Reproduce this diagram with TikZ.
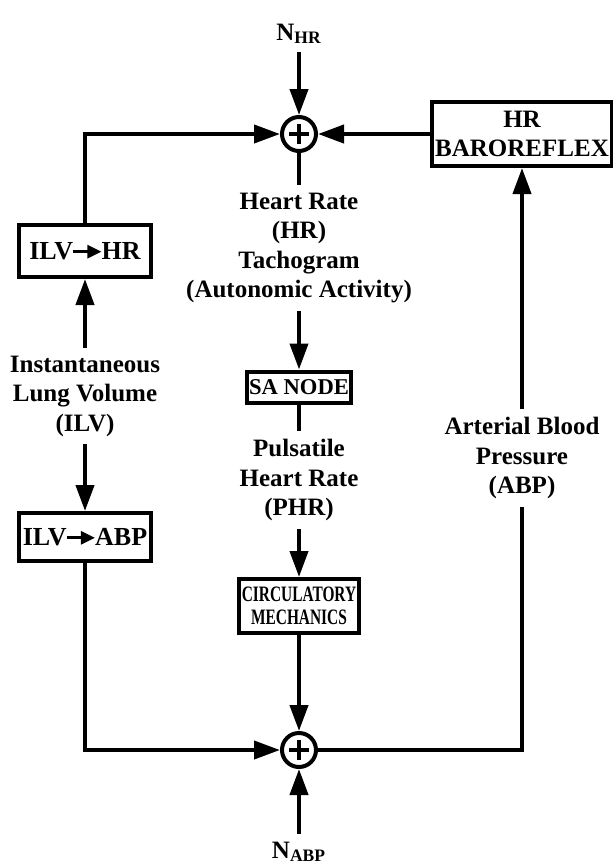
\documentclass[tikz,border=0pt]{standalone}
\usepackage{fontspec}
\usepackage{graphicx}
\setmainfont{Liberation Serif}
\usetikzlibrary{arrows.meta}

% small arrow used inside the ILV boxes
\newcommand{\ilvto}{\kern-0.5pt\tikz[baseline=0pt]\draw[line width=1.3pt,-{Triangle[length=7pt,width=6.5pt]}] (0pt,3.8pt) -- (14pt,3.8pt);\kern-0.5pt}
% narrow capitals in the mechanics box
\newcommand{\narrow}[1]{\scalebox{0.7}[1]{#1}}

\begin{document}
\begin{tikzpicture}[x=0.5pt, y=-0.5pt, line width=2pt, >={Triangle[length=13pt,width=9pt]},
	every node/.style={font=\fontsize{12.5}{14.75}\selectfont\bfseries, align=center, inner sep=3pt},
	blk/.style={draw, line width=2pt, inner sep=1pt},
	sumnode/.style={draw, circle, line width=2pt, minimum size=17pt, inner sep=0pt,
		path picture={\draw[line width=2pt] ([xshift=-5pt]path picture bounding box.center) -- ([xshift=5pt]path picture bounding box.center);
			\draw[line width=2pt] ([yshift=-5pt]path picture bounding box.center) -- ([yshift=5pt]path picture bounding box.center);}}]
	\useasboundingbox (0,0) rectangle (613,867);
	\clip (0,0) rectangle (613,867);

	% summing points
	\node[sumnode] (sumhr) at (299,134) {};
	\node[sumnode] (sumabp) at (299,750) {};
	\node (nhr) at (299,34) {N\textsubscript{HR}};
	\node (nabp) at (299,852) {N\textsubscript{ABP}};

	% blocks
	\node[blk, minimum width=66pt, minimum height=26pt, font=\fontsize{13}{15}\selectfont\bfseries] (ilvhr) at (85,251) {ILV\ilvto HR};
	\node[blk, minimum width=66pt, minimum height=24pt, font=\fontsize{13}{15}\selectfont\bfseries] (ilvabp) at (85,537) {ILV\ilvto ABP};
	\node[blk, minimum width=50.5pt, minimum height=15.5pt, font=\fontsize{11.3}{13}\selectfont\bfseries] (sanode) at (299,387) {SA NODE};
	\node[blk, minimum width=60pt, minimum height=27pt, font=\fontsize{11}{11.5}\selectfont\bfseries] (circmech) at (299,606) {\narrow{CIRCULATORY}\\\narrow{MECHANICS}};
	\node[blk, minimum width=90pt, minimum height=32pt] (baro) at (522,134) {HR\\BAROREFLEX};

	% signal labels
	\node (hrtext) at (299,248) {Heart Rate\\(HR)\\Tachogram\\(Autonomic Activity)};
	\node (ilvtext) at (85,396) {Instantaneous\\Lung Volume\\(ILV)};
	\node (phrtext) at (299,480) {Pulsatile\\Heart Rate\\(PHR)};
	\node (abptext) at (522,458) {Arterial Blood\\Pressure\\(ABP)};

	% connections
	\draw[->] (nhr) -- (sumhr);
	\draw[->] (baro) -- (sumhr);
	\draw[->] (ilvhr) |- (sumhr);
	\draw (sumhr) -- (hrtext);
	\draw[->] (hrtext) -- (sanode);
	\draw (sanode) -- (phrtext);
	\draw[->] (phrtext) -- (circmech);
	\draw[->] (circmech) -- (sumabp);
	\draw[->] (nabp) -- (sumabp);
	\draw[->] (ilvtext) -- (ilvhr);
	\draw[->] (ilvtext) -- (ilvabp);
	\draw[->] (ilvabp) |- (sumabp);
	\draw (sumabp) -| (abptext);
	\draw[->] (abptext) -- (baro);
\end{tikzpicture}
\end{document}
